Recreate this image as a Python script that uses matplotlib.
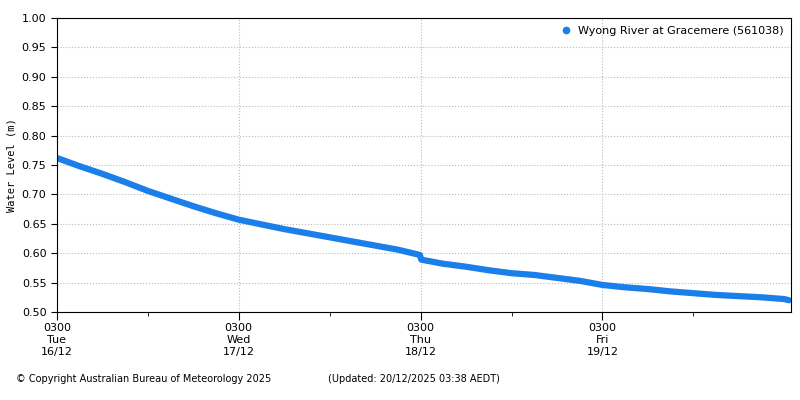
import numpy as np
import matplotlib
matplotlib.use("Agg")
import matplotlib.pyplot as plt
from matplotlib.lines import Line2D

# hours since Tue 16/12 03:00
hours = [0, 3, 6, 9, 12, 15, 18, 21, 24, 27, 30, 33, 36, 39, 42, 45, 47.9, 48.1,
         51, 54, 57, 60, 63, 66, 69, 72, 75, 78, 81, 84, 87, 90, 93, 96, 96.6]
level = [0.762, 0.748, 0.735, 0.721, 0.706, 0.693, 0.680, 0.668, 0.657, 0.649, 0.641, 0.634,
         0.627, 0.620, 0.613, 0.606, 0.597, 0.589,
         0.582, 0.577, 0.571, 0.566, 0.563, 0.558, 0.553, 0.546, 0.542, 0.539, 0.535,
         0.532, 0.529, 0.527, 0.525, 0.522, 0.520]
tick_hours = [0, 24, 48, 72]
tick_labels = ["0300\nTue\n16/12", "0300\nWed\n17/12", "0300\nThu\n18/12", "0300\nFri\n19/12"]
color = "#1a7fe8"

fig = plt.figure(figsize=(8, 4), dpi=100)
ax = fig.add_axes([0.071, 0.22, 0.918, 0.735])
ax.plot(hours, level, color=color, lw=4.5, solid_capstyle="round", solid_joinstyle="round")

ax.set_xlim(0, 96.9)
ax.set_ylim(0.5, 1.0)
ax.set_yticks(np.arange(0.5, 1.001, 0.05))
ax.set_yticklabels([f"{v:.2f}" for v in np.arange(0.5, 1.001, 0.05)], fontsize=8)
ax.set_xticks(tick_hours)
ax.set_xticklabels(tick_labels, fontsize=8, linespacing=1.25)
ax.set_xticks([12, 36, 60, 84], minor=True)
ax.grid(True, which="major", color="#bbbbbb", linestyle=":", lw=0.8)
ax.tick_params(axis="x", which="major", length=6, pad=2)
ax.tick_params(axis="x", which="minor", length=3)
ax.tick_params(axis="y", length=4)
ax.set_ylabel("Water Level (m)", family="DejaVu Sans Mono", fontsize=7.5)
handle = Line2D([], [], marker="o", ls="", color=color, ms=4.5)
ax.legend([handle], ["Wyong River at Gracemere (561038)"], loc="upper right",
          frameon=False, fontsize=8, handletextpad=0.1, borderaxespad=0.3)

fig.text(0.02, 0.045, "© Copyright Australian Bureau of Meteorology 2025", fontsize=7)
fig.text(0.41, 0.045, "(Updated: 20/12/2025 03:38 AEDT)", fontsize=7)
fig.savefig("out.png", dpi=100)
